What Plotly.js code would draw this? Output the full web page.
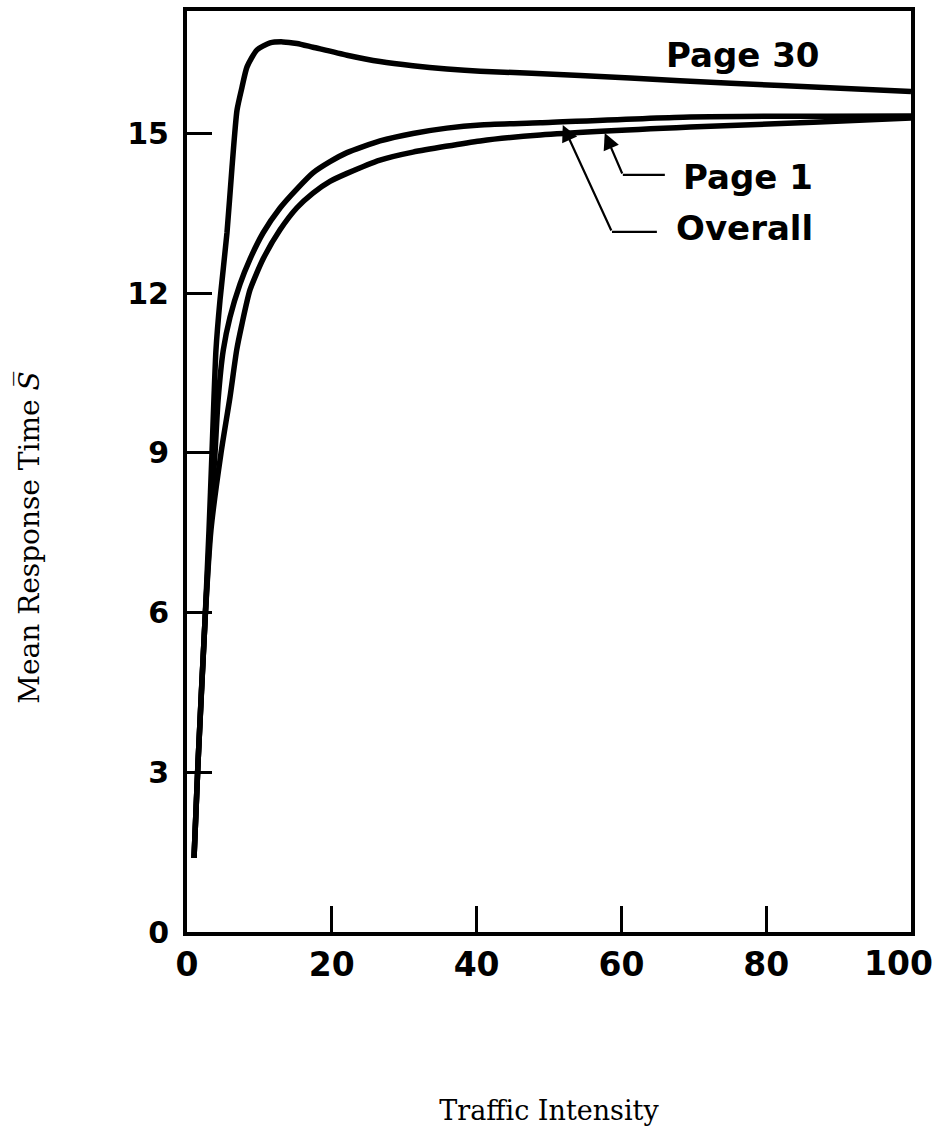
<!DOCTYPE html>
<html>
<head>
<meta charset="utf-8">
<script src="https://cdn.plot.ly/plotly-3.0.1.min.js"></script>
<style>
  html, body { margin: 0; padding: 0; background: #ffffff; }
  #chart { width: 937px; height: 1132px; }
</style>
</head>
<body>
<div id="chart"></div>
<script>
// Mean response time against traffic intensity for three paging cases.

// Page 30 curve
const page30X = [0.97, 1.52, 2.49, 3.04, 3.45, 3.73, 4.0, 4.56, 5.52, 6.22, 6.91, 7.6, 8.29, 9.67, 11.46, 13.26, 15.19, 17.4, 22.1, 26.66, 31.2, 35.9, 40.5, 54.3, 68.1, 82, 100];
const page30Y = [1.39, 3.17, 5.86, 7.55, 9.0, 10.05, 10.93, 11.87, 13.13, 14.37, 15.44, 15.87, 16.25, 16.57, 16.7, 16.72, 16.69, 16.62, 16.47, 16.35, 16.27, 16.21, 16.17, 16.09, 15.99, 15.9, 15.79];

// Overall curve
const overallX = [0.97, 1.52, 2.49, 3.18, 3.87, 4.3, 5.01, 5.94, 7.32, 8.7, 10.5, 12.85, 15.2, 17.4, 19.75, 22.1, 26.66, 31.2, 35.9, 40.5, 48.8, 69.5, 100];
const overallY = [1.39, 3.17, 5.86, 7.55, 9.0, 10.0, 10.93, 11.55, 12.17, 12.64, 13.13, 13.6, 13.96, 14.26, 14.47, 14.64, 14.86, 15.0, 15.1, 15.16, 15.2, 15.31, 15.33];

// Page 1 curve
const page1X = [0.97, 1.52, 2.49, 3.31, 4.7, 5.94, 6.86, 7.56, 8.7, 10.54, 12.85, 15.15, 17.4, 19.75, 22.1, 26.66, 31.2, 40.5, 48.8, 69.5, 86.5, 100];
const page1Y = [1.39, 3.17, 5.86, 7.55, 9.0, 10.05, 10.93, 11.4, 12.06, 12.65, 13.19, 13.6, 13.88, 14.1, 14.25, 14.5, 14.65, 14.86, 14.97, 15.12, 15.21, 15.29];

// Axis ticks
const xTickVals = [0, 20, 40, 60, 80, 100];
const xTickText = ['0', '20', '40', '60', '80', '100'];
const yTickVals = [0, 3, 6, 9, 12, 15];
const yTickText = ['0', '3', '6', '9', '12', '15'];

// Curve labels
const labelNames = ['Page 30', 'Page 1', 'Overall'];

const curveLine = { color: '#000000', width: 5.5, shape: 'spline', smoothing: 0.6 };

const traces = [
  { x: page30X, y: page30Y, name: labelNames[0], type: 'scatter', mode: 'lines', line: curveLine },
  { x: overallX, y: overallY, name: labelNames[2], type: 'scatter', mode: 'lines', line: curveLine },
  { x: page1X, y: page1Y, name: labelNames[1], type: 'scatter', mode: 'lines', line: curveLine }
];

const tickFontX = { family: 'DejaVu Sans', size: 33, color: '#000000', weight: 'bold' };
const tickFontY = { family: 'DejaVu Sans', size: 30, color: '#000000', weight: 'bold' };
const labelFont = { family: 'DejaVu Sans', size: 34, color: '#000000', weight: 'bold' };
const titleFont = { family: 'DejaVu Serif', size: 27, color: '#000000' };

// Leader layout: arrow tip, bend point and end of the horizontal run
const leaders = [
  { tip: [57.7, 15.01], bend: [60.2, 14.22], end: 66.0 },
  { tip: [51.9, 15.16], bend: [58.7, 13.15], end: 64.9 }
];
const labelPos = [[87.7, 16.47], [86.8, 14.18], [86.8, 13.22]];

const annotations = labelNames.map((t, i) => ({
  x: labelPos[i][0], y: labelPos[i][1], xref: 'x', yref: 'y',
  text: t, showarrow: false, xanchor: 'right', yanchor: 'middle', font: labelFont
}));

leaders.forEach(l => {
  annotations.push({
    x: l.tip[0], y: l.tip[1], xref: 'x', yref: 'y',
    ax: l.bend[0], ay: l.bend[1], axref: 'x', ayref: 'y',
    text: '', showarrow: true, arrowhead: 2, arrowsize: 1.5, arrowwidth: 2.2, arrowcolor: '#000000', standoff: 0
  });
});

// Last x tick label, pulled in so it stays inside the page
const lastX = xTickVals.length - 1;
annotations.push({
  x: xTickVals[lastX], y: 0, xref: 'x', yref: 'paper',
  text: xTickText[lastX], showarrow: false, xanchor: 'right', yanchor: 'middle',
  xshift: 24, yshift: -31, font: tickFontX
});

// Vertical axis caption
annotations.push({
  x: -0.217, y: 0.428, xref: 'paper', yref: 'paper',
  text: 'Mean Response Time <i>S\u0305</i>', textangle: -90,
  showarrow: false, xanchor: 'center', yanchor: 'middle',
  font: { family: 'DejaVu Serif', size: 28, color: '#000000' }
});

const shapes = leaders.map(l => ({
  type: 'line', xref: 'x', yref: 'y',
  x0: l.bend[0], y0: l.bend[1], x1: l.end, y1: l.bend[1],
  line: { color: '#000000', width: 2.2 }
}));

const layout = {
  width: 937,
  height: 1132,
  margin: { l: 187, r: 26, t: 11, b: 200 },
  paper_bgcolor: '#ffffff',
  plot_bgcolor: '#ffffff',
  showlegend: false,
  xaxis: {
    range: [0, 100],
    tickmode: 'array', tickvals: xTickVals,
    ticktext: xTickText.map((t, i) => (i === lastX ? '' : t)),
    ticks: 'inside', ticklen: 26, tickwidth: 3, tickcolor: '#000000',
    showline: true, linewidth: 4, linecolor: '#000000', mirror: true,
    showgrid: false, zeroline: false,
    tickfont: tickFontX,
    ticklabelstandoff: 0,
    title: { text: 'Traffic Intensity', font: titleFont, standoff: 120 }
  },
  yaxis: {
    range: [0, 17.3],
    tickmode: 'array', tickvals: yTickVals, ticktext: yTickText,
    ticks: 'inside', ticklen: 25, tickwidth: 3, tickcolor: '#000000',
    showline: true, linewidth: 4, linecolor: '#000000', mirror: true,
    showgrid: false, zeroline: false,
    tickfont: tickFontY,
    ticklabelstandoff: 8,
    ticklabeloverflow: 'allow'
  },
  annotations: annotations,
  shapes: shapes
};

Plotly.newPlot('chart', traces, layout, { staticPlot: true, displayModeBar: false });
</script>
</body>
</html>
